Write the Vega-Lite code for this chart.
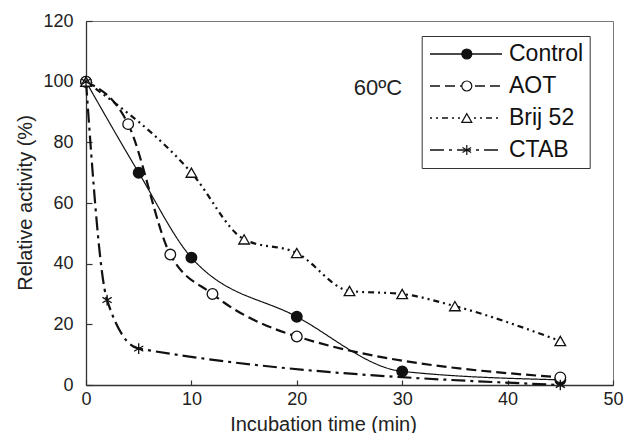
{
  "$schema": "https://vega.github.io/schema/vega-lite/v6.json",
  "width": 527,
  "height": 364,
  "autosize": {"type": "none"},
  "padding": {"left": 86, "top": 21, "right": 11, "bottom": 48},
  "background": "white",
  "config": {
    "font": "Liberation Sans",
    "view": {"stroke": "#777", "strokeWidth": 1},
    "axis": {
      "grid": false,
      "domainColor": "#333",
      "domainWidth": 1.3,
      "tickColor": "#333",
      "tickWidth": 1.2,
      "labelColor": "#222",
      "titleColor": "#222",
      "labelFontSize": 18,
      "titleFontSize": 20,
      "titleFontWeight": "normal",
      "labelFont": "Liberation Sans",
      "titleFont": "Liberation Sans"
    }
  },
  "data": {
    "values": [
      {"series": "Control", "time": 0, "activity": 100},
      {"series": "Control", "time": 5, "activity": 70},
      {"series": "Control", "time": 10, "activity": 42},
      {"series": "Control", "time": 20, "activity": 22.5},
      {"series": "Control", "time": 30, "activity": 4.5},
      {"series": "Control", "time": 45, "activity": 1.7},
      {"series": "AOT", "time": 0, "activity": 100},
      {"series": "AOT", "time": 4, "activity": 86},
      {"series": "AOT", "time": 8, "activity": 43},
      {"series": "AOT", "time": 12, "activity": 30},
      {"series": "AOT", "time": 20, "activity": 16},
      {"series": "AOT", "time": 45, "activity": 2.5},
      {"series": "Brij 52", "time": 0, "activity": 100},
      {"series": "Brij 52", "time": 10, "activity": 70},
      {"series": "Brij 52", "time": 15, "activity": 48},
      {"series": "Brij 52", "time": 20, "activity": 43.5},
      {"series": "Brij 52", "time": 25, "activity": 31},
      {"series": "Brij 52", "time": 30, "activity": 30},
      {"series": "Brij 52", "time": 35, "activity": 26},
      {"series": "Brij 52", "time": 45, "activity": 14.5},
      {"series": "CTAB", "time": 0, "activity": 100},
      {"series": "CTAB", "time": 2, "activity": 28},
      {"series": "CTAB", "time": 5, "activity": 12},
      {"series": "CTAB", "time": 45, "activity": 0}
    ]
  },
  "layer": [
    {
      "transform": [{"filter": "datum.series !== 'Control'"}],
      "mark": {"type": "line", "interpolate": "monotone", "color": "#111", "strokeWidth": 2.2},
      "encoding": {
        "x": {
          "field": "time", "type": "quantitative",
          "scale": {"domain": [0, 50], "nice": false},
          "axis": {
            "values": [0, 10, 20, 30, 40, 50],
            "tickSize": -5,
            "labelPadding": 10,
            "labelFlush": false,
            "title": "Incubation time (min)",
            "titleX": 237,
            "titleY": 45,
            "titleBaseline": "alphabetic",
            "titleAlign": "center"
          }
        },
        "y": {
          "field": "activity", "type": "quantitative",
          "scale": {"domain": [0, 120], "nice": false},
          "axis": {
            "values": [0, 20, 40, 60, 80, 100, 120],
            "tickSize": -6,
            "labelPadding": 19,
            "labelFlush": false,
            "title": "Relative activity (%)",
            "titleX": -54.3,
            "titleY": 181.5,
            "titleAngle": -90,
            "titleBaseline": "alphabetic",
            "titleAlign": "center"
          }
        },
        "strokeDash": {
          "field": "series", "type": "nominal",
          "sort": ["Control", "AOT", "Brij 52", "CTAB"],
          "scale": {"range": [[1, 0], [10, 5], [2, 4, 2, 4, 6, 4], [14, 5, 3, 5]]},
          "legend": {
            "orient": "none", "legendX": 335.7, "legendY": 15, "columns": 1,
            "padding": 6, "strokeColor": "#333", "zindex": 0,
            "symbolType": "stroke", "symbolSize": 5184, "symbolStrokeWidth": 1.5,
            "symbolStrokeColor": "#111", "symbolOffset": 1.3,
            "labelOffset": 6, "labelFontSize": 23, "labelFont": "Liberation Sans",
            "labelColor": "#111", "labelLimit": 300, "clipHeight": 24, "rowPadding": 8,
            "title": null,
            "labelExpr": "datum.label + '  '"
          }
        }
      }
    },
    {
      "transform": [{"filter": "datum.series === 'Control'"}],
      "mark": {"type": "line", "interpolate": "monotone", "color": "#111", "strokeWidth": 1.2},
      "encoding": {
        "x": {"field": "time", "type": "quantitative"},
        "y": {"field": "activity", "type": "quantitative"},
        "strokeDash": {
          "field": "series", "type": "nominal",
          "sort": ["Control", "AOT", "Brij 52", "CTAB"]
        }
      }
    },
    {
      "mark": {"type": "point", "opacity": 1, "size": 113, "strokeWidth": 1.3},
      "encoding": {
        "x": {"field": "time", "type": "quantitative"},
        "y": {"field": "activity", "type": "quantitative"},
        "shape": {
          "field": "series", "type": "nominal",
          "scale": {
            "domain": ["Control", "AOT", "Brij 52", "CTAB"],
            "range": ["circle", "circle", "triangle-up", "M0,-1V1M-0.866,-0.5L0.866,0.5M-0.866,0.5L0.866,-0.5"]
          },
          "legend": {
            "orient": "none", "legendX": 368.8, "legendY": 15, "columns": 1,
            "padding": 6, "symbolSize": 100, "symbolStrokeWidth": 1.2,
            "symbolOffset": 0, "zindex": 2,
            "labelFontSize": 1, "labelOpacity": 0, "labelExpr": "''",
            "clipHeight": 24, "rowPadding": 8, "title": null
          }
        },
        "fill": {
          "field": "series", "type": "nominal",
          "scale": {
            "domain": ["Control", "AOT", "Brij 52", "CTAB"],
            "range": ["#111", "white", "white", "white"]
          },
          "legend": {
            "orient": "none", "legendX": 368.8, "legendY": 15, "columns": 1,
            "padding": 6, "symbolSize": 100, "symbolStrokeWidth": 1.2,
            "symbolOffset": 0, "zindex": 2,
            "labelFontSize": 1, "labelOpacity": 0, "labelExpr": "''",
            "clipHeight": 24, "rowPadding": 8, "title": null
          }
        },
        "stroke": {
          "field": "series", "type": "nominal",
          "scale": {
            "domain": ["Control", "AOT", "Brij 52", "CTAB"],
            "range": ["#111", "#111", "#111", "#111"]
          },
          "legend": {
            "orient": "none", "legendX": 368.8, "legendY": 15, "columns": 1,
            "padding": 6, "symbolSize": 100, "symbolStrokeWidth": 1.2,
            "symbolOffset": 0, "zindex": 2,
            "labelFontSize": 1, "labelOpacity": 0, "labelExpr": "''",
            "clipHeight": 24, "rowPadding": 8, "title": null
          }
        }
      }
    },
    {
      "data": {"values": [{}]},
      "mark": {"type": "text", "fontSize": 22, "font": "Liberation Sans", "color": "#222", "align": "center", "baseline": "middle"},
      "encoding": {
        "x": {"datum": 27.7, "type": "quantitative"},
        "y": {"datum": 97.9, "type": "quantitative"},
        "text": {"value": "60ºC"}
      }
    }
  ]
}
